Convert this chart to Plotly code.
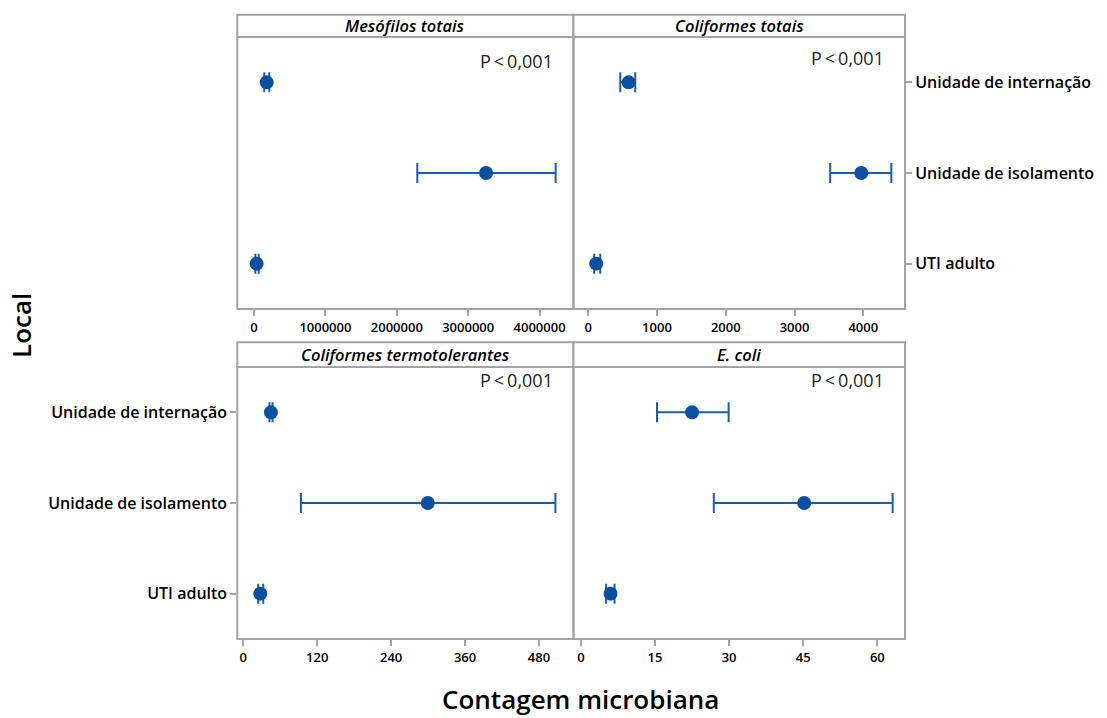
import plotly.graph_objects as go

# Locations (categories) and the per-panel mean with 95% CI limits
locais = ["Unidade de internação", "Unidade de isolamento", "UTI adulto"]
posicao_y = [3, 2, 1]

paineis = ["Mesófilos totais", "Coliformes totais", "Coliformes termotolerantes", "E. coli"]

mesofilos_media = [178000, 3250000, 37000]
mesofilos_inf = [144000, 2287000, 19000]
mesofilos_sup = [214000, 4225000, 66000]

coliformes_media = [587, 3971, 116]
coliformes_inf = [466, 3519, 87]
coliformes_sup = [684, 4408, 175]

termo_media = [44.9, 299.5, 27.6]
termo_inf = [42.5, 93.6, 24.3]
termo_sup = [47.5, 506.6, 32.4]

ecoli_media = [22.5, 45.2, 6.0]
ecoli_inf = [15.4, 26.9, 5.1]
ecoli_sup = [29.9, 63.1, 6.8]

ticks_x = [
    [0, 1000000, 2000000, 3000000, 4000000],
    [0, 1000, 2000, 3000, 4000],
    [0, 120, 240, 360, 480],
    [0, 15, 30, 45, 60],
]
faixas_x = [
    [-234000, 4475000],
    [-214, 4607],
    [-9.7, 536],
    [-1.5, 65.6],
]
p_valor = "P\u2009<\u20090,001"

W, H = 1107, 718
AZUL = "#0B4FA0"
AZUL_LINHA = "#1C5CAC"
CINZA = "#a3a3a3"
FONTE = "Open Sans"

# panel boxes in pixels: (x0, x1, strip_top, plot_top, plot_bottom, p-label offset)
caixas = [
    (237.3, 573.5, 14.7, 37.0, 309.0, 24),
    (573.5, 905.0, 14.7, 37.0, 309.0, 21),
    (237.3, 573.5, 342.3, 367.0, 639.0, 13),
    (573.5, 905.0, 342.3, 367.0, 639.0, 13),
]

series = [
    (mesofilos_media, mesofilos_inf, mesofilos_sup),
    (coliformes_media, coliformes_inf, coliformes_sup),
    (termo_media, termo_inf, termo_sup),
    (ecoli_media, ecoli_inf, ecoli_sup),
]

fig = go.Figure()
layout = dict(
    width=W, height=H,
    margin=dict(l=0, r=0, t=0, b=0),
    paper_bgcolor="white", plot_bgcolor="white",
    showlegend=False,
    font=dict(family=FONTE, color="black"),
)
shapes = []
annotations = []

for i, ((media, inf, sup), (x0, x1, st, pt, pb, poff)) in enumerate(zip(series, caixas)):
    n = i + 1
    xa = "x" if n == 1 else f"x{n}"
    ya = "y" if n == 1 else f"y{n}"
    fig.add_trace(go.Scatter(
        x=media, y=posicao_y, xaxis=xa, yaxis=ya, mode="markers",
        marker=dict(size=14, color=AZUL),
        error_x=dict(
            type="data", symmetric=False,
            array=[s - m for s, m in zip(sup, media)],
            arrayminus=[m - l for m, l in zip(media, inf)],
            color=AZUL_LINHA, thickness=2, width=10,
        ),
        hovertemplate="%{x}<extra></extra>",
    ))
    dom_x = [x0 / W, x1 / W]
    dom_y = [1 - pb / H, 1 - pt / H]
    layout["xaxis" if n == 1 else f"xaxis{n}"] = dict(
        domain=dom_x, anchor=ya, range=faixas_x[i],
        tickvals=ticks_x[i], tickformat="d",
        showgrid=False, zeroline=False, showline=False,
        ticks="outside", ticklen=6, tickwidth=2, tickcolor=CINZA,
        tickfont=dict(family=FONTE, size=13, color="black", weight=600),
    )
    yaxis = dict(
        domain=dom_y, anchor=xa, range=[0.5, 3.5],
        tickvals=posicao_y, ticktext=locais,
        showgrid=False, zeroline=False, showline=False,
        tickfont=dict(family=FONTE, size=16, color="black", weight=600),
    )
    if n == 3:
        yaxis.update(side="left", ticks="outside", ticklen=6, tickwidth=2,
                     tickcolor=CINZA, showticklabels=True)
    elif n == 2:
        yaxis.update(side="right", ticks="outside", ticklen=6, tickwidth=2,
                     tickcolor=CINZA, showticklabels=True)
    else:
        yaxis.update(ticks="", showticklabels=False)
    layout["yaxis" if n == 1 else f"yaxis{n}"] = yaxis

    # panel frame
    shapes.append(dict(
        type="rect", xref="paper", yref="paper", layer="above",
        x0=x0 / W, x1=x1 / W, y0=1 - pb / H, y1=1 - pt / H,
        line=dict(color=CINZA, width=2),
    ))
    # strip with panel title
    shapes.append(dict(
        type="rect", xref="paper", yref="paper",
        x0=x0 / W, x1=x1 / W, y0=1 - pt / H, y1=1 - st / H,
        line=dict(color=CINZA, width=2), fillcolor="white",
    ))
    annotations.append(dict(
        xref="paper", yref="paper", x=(x0 + x1) / 2 / W, y=1 - (st + pt) / 2 / H,
        text=f"<i>{paineis[i]}</i>", showarrow=False,
        xanchor="center", yanchor="middle",
        font=dict(family=FONTE, size=16.5, color="black", weight=600),
    ))
    # significance label in the upper-right corner of each panel
    annotations.append(dict(
        xref="paper", yref="paper", x=(x1 - 19) / W, y=1 - (pt + poff) / H,
        text=p_valor, showarrow=False, xanchor="right", yanchor="middle",
        font=dict(family=FONTE, size=18, color="#222222"),
    ))

annotations.append(dict(
    xref="paper", yref="paper", x=580 / W, y=1 - 699 / H,
    text="Contagem microbiana", showarrow=False,
    xanchor="center", yanchor="middle",
    font=dict(family=FONTE, size=26, color="black", weight=600),
))
annotations.append(dict(
    xref="paper", yref="paper", x=21 / W, y=1 - 326 / H,
    text="Local", showarrow=False, textangle=-90,
    xanchor="center", yanchor="middle",
    font=dict(family=FONTE, size=26, color="black", weight=600),
))

layout["shapes"] = shapes
layout["annotations"] = annotations
fig.update_layout(**layout)
fig.write_html("out.html")
